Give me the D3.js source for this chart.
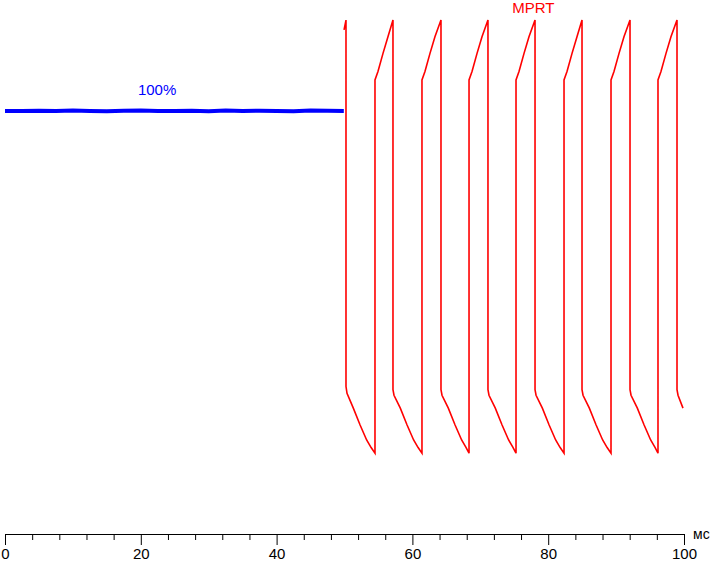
<!DOCTYPE html>
<html>
<head>
<meta charset="utf-8">
<script src="https://cdn.jsdelivr.net/npm/d3@7"></script>
<style>
  html, body { margin: 0; padding: 0; background: #fff; }
  svg { display: block; font-family: "Liberation Sans", Arial, sans-serif; }
</style>
</head>
<body>
<svg id="chart" width="711" height="562"></svg>
<script>
// ---- data ----
const xTicks = [0, 4, 8, 12, 16, 20, 24, 28, 32, 36, 40, 44, 48, 52, 56, 60, 64, 68, 72, 76, 80, 84, 88, 92, 96, 100];
const xMajor = [0, 20, 40, 60, 80, 100];
const xUnit = "мс";

// blue trace (100% brightness, steady)
const blueTime = [0, 2.5, 5, 7.5, 10, 12.5, 15, 17.5, 20, 22.5, 25, 27.5, 30, 32.5, 35, 37.5, 40, 42.5, 45, 47.5, 49.9];
const blueValue = [100, 100, 100.05, 100, 100.1, 100, 99.95, 100.05, 100.1, 100, 100, 100.05, 99.95, 100.1, 100, 100.05, 100, 99.95, 100.1, 100.05, 100];
const blueLabel = "100%";

// red trace (MPRT)
const redTime = [
  49.93, 50.22, 50.22, 50.37, 51.30, 52.28, 53.26, 53.92, 54.49, 54.49, 54.93, 55.67, 56.40,
  57.14, 57.14, 57.29, 58.22, 59.20, 60.18, 60.84, 61.41, 61.41, 61.85, 62.59, 63.32,
  64.21, 64.21, 64.36, 65.29, 66.27, 67.25, 67.91, 68.34, 68.34, 68.78, 69.52, 70.25,
  71.13, 71.13, 71.28, 72.21, 73.19, 74.17, 74.83, 75.26, 75.26, 75.70, 76.44, 77.17,
  78.06, 78.06, 78.21, 79.14, 80.12, 81.10, 81.76, 82.33, 82.33, 82.77, 83.51, 84.24,
  84.98, 84.98, 85.13, 86.06, 87.04, 88.02, 88.68, 89.25, 89.25, 89.69, 90.43, 91.16,
  92.05, 92.05, 92.20, 93.13, 94.11, 95.09, 95.75, 96.17, 96.17, 96.61, 97.35, 98.08,
  98.97, 98.97, 99.12, 99.85
];
const redValue = [
  121.4, 124, 27.3, 25.5, 21.6, 17.2, 13.2, 11.2, 9.7, 108.2, 110.4, 115.2, 119.6,
  124, 26.5, 25.0, 21.6, 17.2, 13.2, 11.2, 9.7, 108.2, 110.4, 115.2, 119.6,
  124, 26.5, 25.0, 21.6, 17.2, 13.2, 11.2, 9.7, 108.2, 110.4, 115.2, 119.6,
  124, 26.5, 25.0, 21.6, 17.2, 13.2, 11.2, 9.7, 108.2, 110.4, 115.2, 119.6,
  124, 26.5, 25.0, 21.6, 17.2, 13.2, 11.2, 9.7, 108.2, 110.4, 115.2, 119.6,
  124, 26.5, 25.0, 21.6, 17.2, 13.2, 11.2, 9.7, 108.2, 110.4, 115.2, 119.6,
  124, 26.5, 25.0, 21.6, 17.2, 13.2, 11.2, 9.7, 108.2, 110.4, 115.2, 119.6,
  124, 26.5, 25.0, 21.6
];
const redLabel = "MPRT";

// ---- chart ----
const svg = d3.select("#chart");
const x = d3.scaleLinear().domain([0, 100]).range([5, 684]);
const y = d3.scaleLinear().domain([0, 100]).range([490, 111]);

const line = d3.line().x(d => x(d[0])).y(d => y(d[1]));

const blueData = blueTime.map((t, i) => [t, blueValue[i]]);
const redData = redTime.map((t, i) => [t, redValue[i]]);

svg.append("path")
  .datum(blueData)
  .attr("d", line)
  .attr("fill", "none")
  .attr("stroke", "#0000ff")
  .attr("stroke-width", 4);

svg.append("path")
  .datum(redData)
  .attr("d", line)
  .attr("fill", "none")
  .attr("stroke", "#ff0000")
  .attr("stroke-width", 1.6)
  .attr("stroke-linejoin", "miter");

// labels
svg.append("text")
  .attr("x", x(22.4)).attr("y", 95)
  .attr("text-anchor", "middle")
  .attr("font-size", 15)
  .attr("fill", "#0000ff")
  .text(blueLabel);

svg.append("text")
  .attr("x", x(77.8)).attr("y", 12.5)
  .attr("text-anchor", "middle")
  .attr("font-size", 15)
  .attr("fill", "#ff0000")
  .text(redLabel);

// axis
const axis = d3.axisBottom(x)
  .tickValues(xTicks)
  .tickSizeOuter(0)
  .tickSizeInner(6)
  .tickFormat(d => xMajor.includes(d) ? d : "");

const gAxis = svg.append("g")
  .attr("transform", "translate(0,534)")
  .call(axis);

gAxis.select(".domain").attr("stroke", "#000");
gAxis.selectAll(".tick line")
  .attr("stroke", "#000")
  .attr("y2", d => xMajor.includes(d) ? 11 : 6);
gAxis.selectAll(".tick text")
  .attr("y", 14)
  .attr("dy", "0.71em")
  .attr("font-size", 15)
  .attr("font-family", "'Liberation Sans', Arial, sans-serif")
  .attr("fill", "#000");

svg.append("text")
  .attr("x", 693).attr("y", 539)
  .attr("font-size", 14)
  .attr("fill", "#000")
  .text(xUnit);
</script>
</body>
</html>
